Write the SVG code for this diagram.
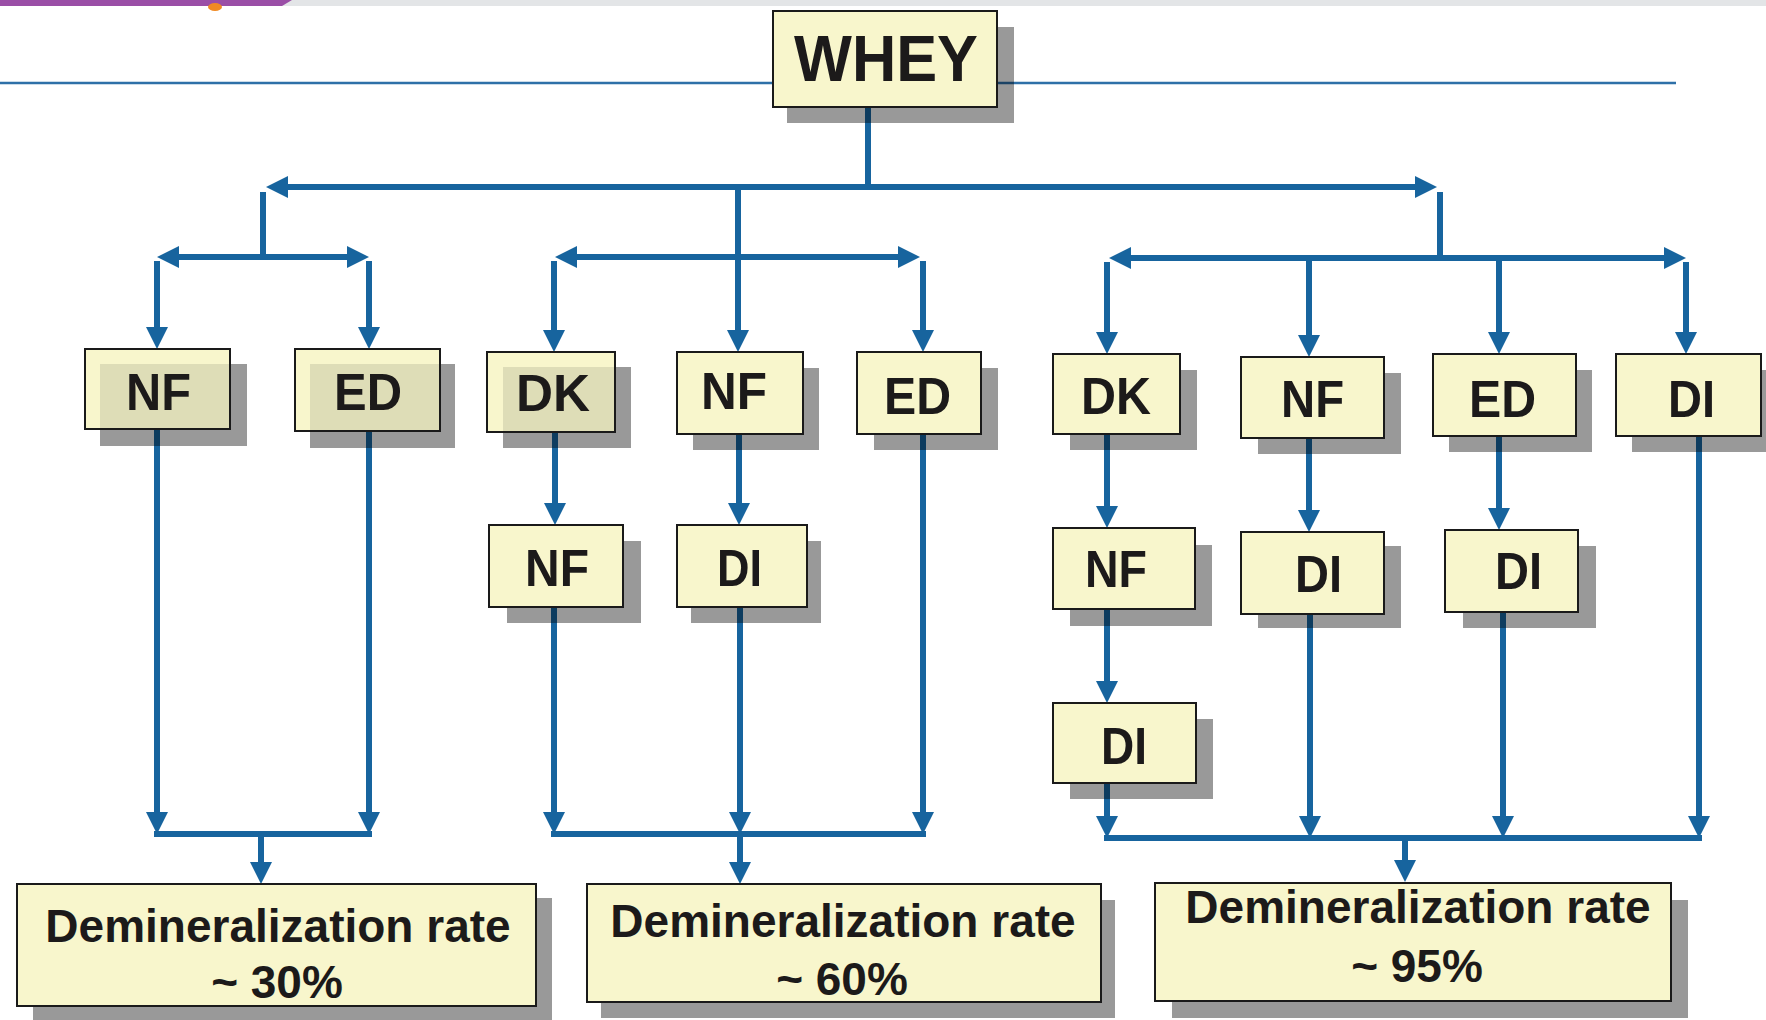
<svg xmlns="http://www.w3.org/2000/svg" width="1766" height="1020" viewBox="0 0 1766 1020">
  <style>
    .box { fill: #f8f6cc; stroke: #1a1a1a; stroke-width: 2; }
    .shd { fill: #000; fill-opacity: 0.4; }
    .ovl { fill: #000; fill-opacity: 0.1; }
    .lbl { font-family: "Liberation Sans", Arial, Helvetica, sans-serif; font-weight: bold; font-size: 52px; fill: #1c1a1a; text-anchor: middle; }
    .big { font-family: "Liberation Sans", Arial, Helvetica, sans-serif; font-weight: bold; font-size: 64px; fill: #1c1a1a; text-anchor: middle; }
    .res { font-family: "Liberation Sans", Arial, Helvetica, sans-serif; font-weight: bold; font-size: 46px; fill: #1c1a1a; text-anchor: middle; }
    .ln { stroke: #17649e; stroke-width: 6; fill: none; }
    .arr { stroke: #17649e; stroke-width: 6; fill: none; marker-end: url(#ah); }
    .dbl { stroke: #17649e; stroke-width: 6; fill: none; marker-end: url(#ah); marker-start: url(#ahs); }
  </style>
  <defs>
    <marker id="ah" markerUnits="userSpaceOnUse" viewBox="0 0 22 22" refX="12" refY="11" markerWidth="22" markerHeight="22" orient="auto">
      <path d="M0,0 L22,11 L0,22 z" fill="#17649e"/>
    </marker>
    <marker id="ahs" markerUnits="userSpaceOnUse" viewBox="0 0 22 22" refX="12" refY="11" markerWidth="22" markerHeight="22" orient="auto-start-reverse">
      <path d="M0,0 L22,11 L0,22 z" fill="#17649e"/>
    </marker>
  </defs>

  <g id="background">
    <rect x="0" y="0" width="1766" height="6" fill="#e3e5e7"/>
    <path d="M0,0 L292,0 L282,6 L0,6 z" fill="#9a4ea6"/>
    <ellipse cx="215" cy="7" rx="7" ry="4" fill="#f08a24"/>
    <line x1="0" y1="83" x2="1676" y2="83" stroke="#2e70a8" stroke-width="2.5"/>
  </g>

  <g id="connectors">
    <!-- top distribution -->
    <line class="ln" x1="868" y1="107" x2="868" y2="187"/>
    <line class="dbl" x1="276" y1="187" x2="1427" y2="187"/>
    <line class="ln" x1="263" y1="192" x2="263" y2="257"/>
    <line class="ln" x1="1440" y1="192" x2="1440" y2="258"/>
    <!-- group 1 -->
    <line class="dbl" x1="167" y1="257" x2="359" y2="257"/>
    <line class="arr" x1="157" y1="261" x2="157" y2="339"/>
    <line class="arr" x1="369" y1="261" x2="369" y2="339"/>
    <line class="arr" x1="157" y1="429" x2="157" y2="824"/>
    <line class="arr" x1="369" y1="432" x2="369" y2="824"/>
    <line class="ln" x1="154" y1="834" x2="372" y2="834"/>
    <line class="arr" x1="261" y1="834" x2="261" y2="874"/>
    <!-- group 2 -->
    <line class="dbl" x1="565" y1="257" x2="910" y2="257"/>
    <line class="arr" x1="738" y1="187" x2="738" y2="342"/>
    <line class="arr" x1="554" y1="261" x2="554" y2="342"/>
    <line class="arr" x1="923" y1="261" x2="923" y2="342"/>
    <line class="arr" x1="555" y1="432" x2="555" y2="515"/>
    <line class="arr" x1="739" y1="434" x2="739" y2="515"/>
    <line class="arr" x1="554" y1="607" x2="554" y2="824"/>
    <line class="arr" x1="740" y1="607" x2="740" y2="824"/>
    <line class="arr" x1="923" y1="433" x2="923" y2="824"/>
    <line class="ln" x1="551" y1="834" x2="926" y2="834"/>
    <line class="arr" x1="740" y1="834" x2="740" y2="874"/>
    <!-- group 3 -->
    <line class="dbl" x1="1119" y1="258" x2="1676" y2="258"/>
    <line class="arr" x1="1107" y1="262" x2="1107" y2="344"/>
    <line class="arr" x1="1309" y1="258" x2="1309" y2="347"/>
    <line class="arr" x1="1499" y1="258" x2="1499" y2="344"/>
    <line class="arr" x1="1686" y1="262" x2="1686" y2="344"/>
    <line class="arr" x1="1107" y1="434" x2="1107" y2="518"/>
    <line class="arr" x1="1107" y1="609" x2="1107" y2="693"/>
    <line class="arr" x1="1309" y1="438" x2="1309" y2="522"/>
    <line class="arr" x1="1499" y1="436" x2="1499" y2="520"/>
    <line class="arr" x1="1107" y1="783" x2="1107" y2="828"/>
    <line class="arr" x1="1310" y1="614" x2="1310" y2="828"/>
    <line class="arr" x1="1503" y1="612" x2="1503" y2="828"/>
    <line class="arr" x1="1699" y1="436" x2="1699" y2="828"/>
    <line class="ln" x1="1104" y1="838" x2="1702" y2="838"/>
    <line class="arr" x1="1405" y1="838" x2="1405" y2="872"/>
  </g>

  <g id="whey">
    <rect class="shd" x="787" y="27" width="227" height="96"/>
    <rect class="box" x="773" y="11" width="224" height="96"/>
    <text class="big" x="886" y="81" textLength="184" lengthAdjust="spacingAndGlyphs">WHEY</text>
  </g>

  <g id="g1-nf">
    <rect class="shd" x="100" y="364" width="147" height="82"/>
    <rect class="box" x="85" y="349" width="145" height="80"/>
    <rect class="ovl" x="100" y="364" width="129" height="64"/>
    <text class="lbl" x="158.5" y="410" textLength="65" lengthAdjust="spacingAndGlyphs">NF</text>
  </g>
  <g id="g1-ed">
    <rect class="shd" x="310" y="364" width="145" height="84"/>
    <rect class="box" x="295" y="349" width="145" height="82"/>
    <rect class="ovl" x="310" y="364" width="129" height="66"/>
    <text class="lbl" x="368" y="410" textLength="68" lengthAdjust="spacingAndGlyphs">ED</text>
  </g>

  <g id="g2-dk">
    <rect class="shd" x="503" y="367" width="128" height="81"/>
    <rect class="box" x="487" y="352" width="128" height="80"/>
    <rect class="ovl" x="503" y="367" width="111" height="64"/>
    <text class="lbl" x="553" y="411" textLength="74" lengthAdjust="spacingAndGlyphs">DK</text>
  </g>
  <g id="g2-nf">
    <rect class="shd" x="693" y="368" width="126" height="82"/>
    <rect class="box" x="677" y="352" width="126" height="82"/>
    <text class="lbl" x="734" y="409" textLength="66" lengthAdjust="spacingAndGlyphs">NF</text>
  </g>
  <g id="g2-ed">
    <rect class="shd" x="874" y="368" width="124" height="82"/>
    <rect class="box" x="857" y="352" width="124" height="82"/>
    <text class="lbl" x="917.5" y="414" textLength="67" lengthAdjust="spacingAndGlyphs">ED</text>
  </g>
  <g id="g2-nf2">
    <rect class="shd" x="507" y="541" width="134" height="82"/>
    <rect class="box" x="489" y="525" width="134" height="82"/>
    <text class="lbl" x="557" y="586" textLength="64" lengthAdjust="spacingAndGlyphs">NF</text>
  </g>
  <g id="g2-di">
    <rect class="shd" x="691" y="541" width="130" height="82"/>
    <rect class="box" x="677" y="525" width="130" height="82"/>
    <text class="lbl" x="739.5" y="586" textLength="45" lengthAdjust="spacingAndGlyphs">DI</text>
  </g>

  <g id="g3-dk">
    <rect class="shd" x="1070" y="370" width="127" height="80"/>
    <rect class="box" x="1053" y="354" width="127" height="80"/>
    <text class="lbl" x="1116" y="414" textLength="70" lengthAdjust="spacingAndGlyphs">DK</text>
  </g>
  <g id="g3-nf">
    <rect class="shd" x="1258" y="373" width="143" height="81"/>
    <rect class="box" x="1241" y="357" width="143" height="81"/>
    <text class="lbl" x="1312.5" y="417" textLength="63" lengthAdjust="spacingAndGlyphs">NF</text>
  </g>
  <g id="g3-ed">
    <rect class="shd" x="1449" y="370" width="143" height="82"/>
    <rect class="box" x="1433" y="354" width="143" height="82"/>
    <text class="lbl" x="1502.5" y="417" textLength="67" lengthAdjust="spacingAndGlyphs">ED</text>
  </g>
  <g id="g3-di">
    <rect class="shd" x="1632" y="370" width="145" height="82"/>
    <rect class="box" x="1616" y="354" width="145" height="82"/>
    <text class="lbl" x="1691.5" y="417" textLength="47" lengthAdjust="spacingAndGlyphs">DI</text>
  </g>
  <g id="g3-nf2">
    <rect class="shd" x="1070" y="545" width="142" height="81"/>
    <rect class="box" x="1053" y="528" width="142" height="81"/>
    <text class="lbl" x="1116" y="587" textLength="62" lengthAdjust="spacingAndGlyphs">NF</text>
  </g>
  <g id="g3-di2">
    <rect class="shd" x="1258" y="546" width="143" height="82"/>
    <rect class="box" x="1241" y="532" width="143" height="82"/>
    <text class="lbl" x="1318.5" y="592" textLength="47" lengthAdjust="spacingAndGlyphs">DI</text>
  </g>
  <g id="g3-di3">
    <rect class="shd" x="1463" y="546" width="133" height="82"/>
    <rect class="box" x="1445" y="530" width="133" height="82"/>
    <text class="lbl" x="1518.5" y="589" textLength="47" lengthAdjust="spacingAndGlyphs">DI</text>
  </g>
  <g id="g3-di4">
    <rect class="shd" x="1070" y="719" width="143" height="80"/>
    <rect class="box" x="1053" y="703" width="143" height="80"/>
    <text class="lbl" x="1124" y="764" textLength="46" lengthAdjust="spacingAndGlyphs">DI</text>
  </g>

  <g id="res30">
    <rect class="shd" x="33" y="898" width="519" height="122"/>
    <rect class="box" x="17" y="884" width="519" height="122"/>
    <text class="res" x="278" y="942">Demineralization rate</text>
    <text class="res" x="277" y="998">~ 30%</text>
  </g>
  <g id="res60">
    <rect class="shd" x="601" y="900" width="514" height="118"/>
    <rect class="box" x="587" y="884" width="514" height="118"/>
    <text class="res" x="843" y="937">Demineralization rate</text>
    <text class="res" x="842" y="995">~ 60%</text>
  </g>
  <g id="res95">
    <rect class="shd" x="1172" y="900" width="516" height="118"/>
    <rect class="box" x="1155" y="883" width="516" height="118"/>
    <text class="res" x="1418" y="923">Demineralization rate</text>
    <text class="res" x="1417" y="982">~ 95%</text>
  </g>
</svg>
